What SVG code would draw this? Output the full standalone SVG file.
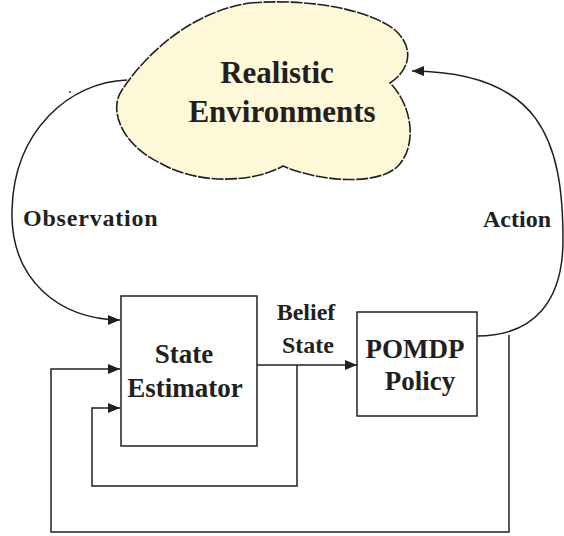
<svg xmlns="http://www.w3.org/2000/svg" width="564" height="536" viewBox="0 0 564 536">
<style>
.t{font-family:"Liberation Serif","Times New Roman",serif;font-weight:bold;fill:#231f20}
.c{fill:none;stroke:#231f20;stroke-width:1.5}
.box{fill:#fff;stroke:#231f20;stroke-width:1.5}
</style>
<defs>
<marker id="ah" markerUnits="userSpaceOnUse" markerWidth="14" markerHeight="12" refX="12" refY="5" orient="auto">
<path d="M0,0 L12,5 L0,10 Z" fill="#231f20"/>
</marker>
</defs>
<rect width="564" height="536" fill="#fff"/>
<g id="env">
<path d="M250,3 C310,-2 370,10 395,30 C415,48 410,70 390,83 C412,105 418,145 398,166 C378,186 320,182 283,166 C255,182 200,186 160,163 C122,145 108,110 122,90 C145,55 190,12 250,3 Z" fill="#fdf8d8" stroke="#231f20" stroke-width="1.6" stroke-dasharray="12 1.5"/>
<text class="t" x="277" y="83" font-size="31" text-anchor="middle">Realistic</text>
<text class="t" x="282" y="122" font-size="31" text-anchor="middle">Environments</text>
</g>
<g id="connectors">
<path class="c" d="M127,80 C70,82 14,130 12,210 C10,280 60,320 120,320" marker-end="url(#ah)"/>
<path class="c" d="M477,336 C535,336 563,300 563,240 C563,140 540,72 412,71" marker-end="url(#ah)"/>
<path class="c" d="M257,365 L357,365" marker-end="url(#ah)"/>
<path class="c" d="M297,365 V486 H92 V408 H120" marker-end="url(#ah)"/>
<path class="c" d="M509,335 V532 H51 V369 H120" marker-end="url(#ah)"/>
<circle cx="70" cy="92" r="0.9" fill="#231f20"/>
</g>
<g id="observation-label">
<text class="t" x="23" y="226" font-size="24" letter-spacing="0.8">Observation</text>
</g>
<g id="action-label">
<text class="t" x="483" y="227" font-size="24">Action</text>
</g>
<g id="belief-label">
<text class="t" x="306" y="320" font-size="24" text-anchor="middle">Belief</text>
<text class="t" x="308" y="353" font-size="24" text-anchor="middle">State</text>
</g>
<g id="state-estimator">
<rect class="box" x="121" y="296" width="136" height="150"/>
<text class="t" x="184" y="363" font-size="27" text-anchor="middle">State</text>
<text class="t" x="185" y="397" font-size="27" text-anchor="middle">Estimator</text>
</g>
<g id="pomdp-policy">
<rect class="box" x="357" y="312" width="120" height="104"/>
<text class="t" x="415" y="358" font-size="27" text-anchor="middle">POMDP</text>
<text class="t" x="420" y="390" font-size="27" text-anchor="middle">Policy</text>
</g>
</svg>
